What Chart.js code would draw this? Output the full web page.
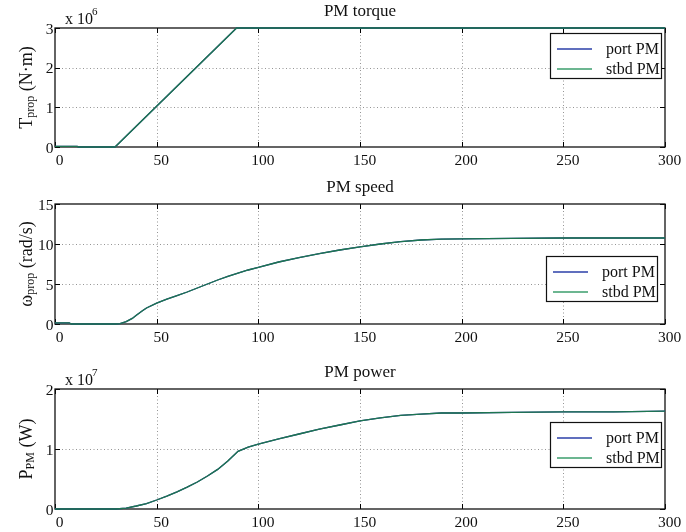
<!DOCTYPE html>
<html>
<head>
<meta charset="utf-8">
<script src="https://cdn.jsdelivr.net/npm/chart.js@4"></script>
<style>
  body { margin: 0; background: #fff; }
  #wrap { position: relative; width: 686px; height: 532px; }
  canvas { position: absolute; left: 0; top: 0; }
</style>
</head>
<body>
<div id="wrap">
  <canvas id="torque" width="686" height="532"></canvas>
  <canvas id="speed" width="686" height="532"></canvas>
  <canvas id="power" width="686" height="532"></canvas>
</div>
<script>
// time axis (s)
var xTicks = [0, 50, 100, 150, 200, 250, 300];
var seriesNames = ['port PM', 'stbd PM'];

// PM torque, x 10^6 N·m
var torqueTime = [0, 11, 11.5, 29.5, 89.3, 300];
var torquePort = [0.015, 0.015, 0, 0, 3, 3];
var torqueStbd = [0.015, 0.015, 0, 0, 3, 3];
var torqueTicks = [0, 1, 2, 3];

// PM speed, rad/s
var speedTime = [0, 7, 8, 30, 32, 35, 38, 40, 43, 45, 50, 55, 60, 65, 70, 75, 80, 85, 90, 95, 100,
  110, 120, 130, 140, 150, 160, 170, 180, 190, 200, 225, 250, 275, 300];
var speedPort = [0.15, 0.15, 0, 0, 0.05, 0.3, 0.7, 1.1, 1.65, 2.0, 2.6, 3.1, 3.55, 4.0, 4.5, 5.0, 5.5, 5.95, 6.37, 6.75, 7.08,
  7.75, 8.3, 8.8, 9.25, 9.65, 10.0, 10.3, 10.5, 10.6, 10.65, 10.7, 10.75, 10.75, 10.75];
var speedStbd = [0.15, 0.15, 0, 0, 0.05, 0.3, 0.7, 1.1, 1.65, 2.0, 2.6, 3.1, 3.55, 4.0, 4.5, 5.0, 5.5, 5.95, 6.37, 6.75, 7.08,
  7.75, 8.3, 8.8, 9.25, 9.65, 10.0, 10.3, 10.5, 10.6, 10.65, 10.7, 10.75, 10.75, 10.75];
var speedTicks = [0, 5, 10, 15];

// PM power, x 10^7 W
var powerTime = [0, 30, 35, 40, 45, 50, 55, 60, 65, 70, 75, 80, 85, 90, 95, 100,
  110, 120, 130, 140, 150, 160, 170, 180, 190, 200, 225, 250, 275, 300];
var powerPort = [0, 0, 0.015, 0.05, 0.09, 0.15, 0.215, 0.285, 0.365, 0.45, 0.55, 0.66, 0.8, 0.96, 1.03, 1.08,
  1.17, 1.25, 1.33, 1.4, 1.47, 1.52, 1.56, 1.58, 1.6, 1.6, 1.61, 1.62, 1.62, 1.63];
var powerStbd = [0, 0, 0.015, 0.05, 0.09, 0.15, 0.215, 0.285, 0.365, 0.45, 0.55, 0.66, 0.8, 0.96, 1.03, 1.08,
  1.17, 1.25, 1.33, 1.4, 1.47, 1.52, 1.56, 1.58, 1.6, 1.6, 1.61, 1.62, 1.62, 1.63];
var powerTicks = [0, 1, 2];

var portColor = '#2b3a98';
var stbdColor = '#1d7650';
var serif = '"Liberation Serif", "DejaVu Serif", serif';

function pairs(t, v) {
  return t.map(function (x, i) { return {x: x, y: v[i]}; });
}

function line(ctx, x1, y1, x2, y2) {
  ctx.beginPath();
  ctx.moveTo(x1, y1);
  ctx.lineTo(x2, y2);
  ctx.stroke();
}

var panelDecor = {
  id: 'panelDecor',
  beforeDatasetsDraw: function (chart) {
    var ctx = chart.ctx, a = chart.chartArea;
    var xs = chart.scales.x, ys = chart.scales.y;
    ctx.save();
    // dotted grid
    ctx.strokeStyle = '#7a7a7a';
    ctx.lineWidth = 0.8;
    ctx.setLineDash([1, 2.5]);
    xs.ticks.forEach(function (t) {
      var px = Math.round(xs.getPixelForValue(t.value)) + 0.5;
      if (px > a.left + 2 && px < a.right - 2) line(ctx, px, a.top, px, a.bottom);
    });
    ys.ticks.forEach(function (t) {
      var py = Math.round(ys.getPixelForValue(t.value)) + 0.5;
      if (py > a.top + 2 && py < a.bottom - 2) line(ctx, a.left, py, a.right, py);
    });
    ctx.setLineDash([]);
    // inner ticks
    ctx.strokeStyle = '#000';
    ctx.lineWidth = 1;
    xs.ticks.forEach(function (t) {
      var px = Math.round(xs.getPixelForValue(t.value)) + 0.5;
      line(ctx, px, a.bottom, px, a.bottom - 5);
      line(ctx, px, a.top, px, a.top + 5);
    });
    ys.ticks.forEach(function (t) {
      var py = Math.round(ys.getPixelForValue(t.value)) + 0.5;
      line(ctx, a.left, py, a.left + 5, py);
      line(ctx, a.right, py, a.right - 5, py);
    });
    // frame
    ctx.lineWidth = 1.3;
    ctx.strokeStyle = '#111';
    ctx.strokeRect(a.left, a.top, a.right - a.left, a.bottom - a.top);
    ctx.restore();
  },
  afterDraw: function (chart, args, o) {
    var ctx = chart.ctx, a = chart.chartArea;
    ctx.save();
    ctx.fillStyle = '#111';
    // title
    ctx.font = '17px ' + serif;
    ctx.textAlign = 'center';
    ctx.textBaseline = 'middle';
    ctx.fillText(o.title, (a.left + a.right) / 2, a.top - 16);
    // exponent
    if (o.exponent) {
      ctx.textAlign = 'left';
      ctx.textBaseline = 'alphabetic';
      ctx.font = '16px ' + serif;
      ctx.fillText('x 10', 65, a.top - 4.5);
      var w = ctx.measureText('x 10').width;
      ctx.font = '11px ' + serif;
      ctx.fillText(o.exponent, 65 + w - 1, a.top - 13);
    }
    // y label with subscript
    var parts = o.yLabel;
    var total = 0;
    parts.forEach(function (p) {
      ctx.font = (p.sub ? '12px ' : '18px ') + serif;
      p.w = ctx.measureText(p.t).width;
      total += p.w;
    });
    ctx.translate(27, (a.top + a.bottom) / 2);
    ctx.rotate(-Math.PI / 2);
    ctx.textAlign = 'left';
    ctx.textBaseline = 'middle';
    var x = -total / 2;
    parts.forEach(function (p) {
      ctx.font = (p.sub ? '12px ' : '18px ') + serif;
      ctx.fillText(p.t, x, p.sub ? 4 : 0);
      x += p.w;
    });
    ctx.restore();

    // legend
    ctx.save();
    var bx = a.right - o.legendRight - 111, by = o.legendTop;
    ctx.fillStyle = '#fff';
    ctx.fillRect(bx, by, 111, 45);
    ctx.strokeStyle = '#111';
    ctx.lineWidth = 1.2;
    ctx.strokeRect(bx + 0.5, by + 0.5, 111, 45);
    ctx.font = '16px ' + serif;
    ctx.textAlign = 'left';
    ctx.textBaseline = 'middle';
    chart.data.datasets.forEach(function (ds, i) {
      var ry = by + 16 + i * 20;
      ctx.strokeStyle = ds.legendColor;
      ctx.lineWidth = 1.5;
      line(ctx, bx + 7, ry, bx + 42, ry);
      ctx.fillStyle = '#111';
      ctx.fillText(ds.label, bx + 56, ry + 1);
    });
    ctx.restore();
  }
};

function makePanel(id, cfg) {
  var tickFont = {family: serif, size: 15.5};
  return new Chart(document.getElementById(id), {
    type: 'line',
    data: {
      datasets: [
        {label: seriesNames[0], data: pairs(cfg.time, cfg.port), borderColor: portColor, order: 1,
          legendColor: '#2b3fa8', borderWidth: 1.3, pointRadius: 0, tension: 0,
          clip: {left: 0, top: 1, right: 0, bottom: 1}},
        {label: seriesNames[1], data: pairs(cfg.time, cfg.stbd), borderColor: stbdColor, order: 0,
          legendColor: '#3b9e6c', borderWidth: 1.3, pointRadius: 0, tension: 0,
          clip: {left: 0, top: 1, right: 0, bottom: 1}}
      ]
    },
    options: {
      responsive: false,
      animation: false,
      layout: {padding: {top: cfg.areaTop, left: 0, right: 21, bottom: 0}},
      plugins: {
        legend: {display: false},
        tooltip: {enabled: false},
        panelDecor: {title: cfg.title, yLabel: cfg.yLabel, exponent: cfg.exponent,
          legendTop: cfg.legendTop, legendRight: cfg.legendRight}
      },
      scales: {
        x: {
          type: 'linear', min: 0, max: 300,
          grid: {display: false, drawTicks: false}, border: {display: false},
          afterBuildTicks: function (s) { s.ticks = xTicks.map(function (v) { return {value: v}; }); },
          afterFit: function (s) { s.height = 532 - cfg.areaBottom; },
          ticks: {font: tickFont, color: '#111', padding: 5, labelOffset: 4.5, maxRotation: 0, autoSkip: false}
        },
        y: {
          type: 'linear', min: 0, max: cfg.ticks[cfg.ticks.length - 1],
          grid: {display: false, drawTicks: false}, border: {display: false},
          afterBuildTicks: function (s) { s.ticks = cfg.ticks.map(function (v) { return {value: v}; }); },
          afterFit: function (s) { s.width = 55; },
          ticks: {font: tickFont, color: '#111', padding: 1.5, labelOffset: 1.5, autoSkip: false}
        }
      }
    },
    plugins: [panelDecor]
  });
}

makePanel('torque', {
  time: torqueTime, port: torquePort, stbd: torqueStbd, ticks: torqueTicks,
  areaTop: 28, areaBottom: 147, title: 'PM torque', exponent: '6',
  yLabel: [{t: 'T'}, {t: 'prop', sub: true}, {t: ' (N\u00b7m)'}],
  legendTop: 33, legendRight: 4
});
makePanel('speed', {
  time: speedTime, port: speedPort, stbd: speedStbd, ticks: speedTicks,
  areaTop: 204, areaBottom: 324, title: 'PM speed', exponent: null,
  yLabel: [{t: '\u03c9'}, {t: 'prop', sub: true}, {t: ' (rad/s)'}],
  legendTop: 256, legendRight: 8
});
makePanel('power', {
  time: powerTime, port: powerPort, stbd: powerStbd, ticks: powerTicks,
  areaTop: 389, areaBottom: 509, title: 'PM power', exponent: '7',
  yLabel: [{t: 'P'}, {t: 'PM', sub: true}, {t: ' (W)'}],
  legendTop: 422, legendRight: 4
});
</script>
</body>
</html>
